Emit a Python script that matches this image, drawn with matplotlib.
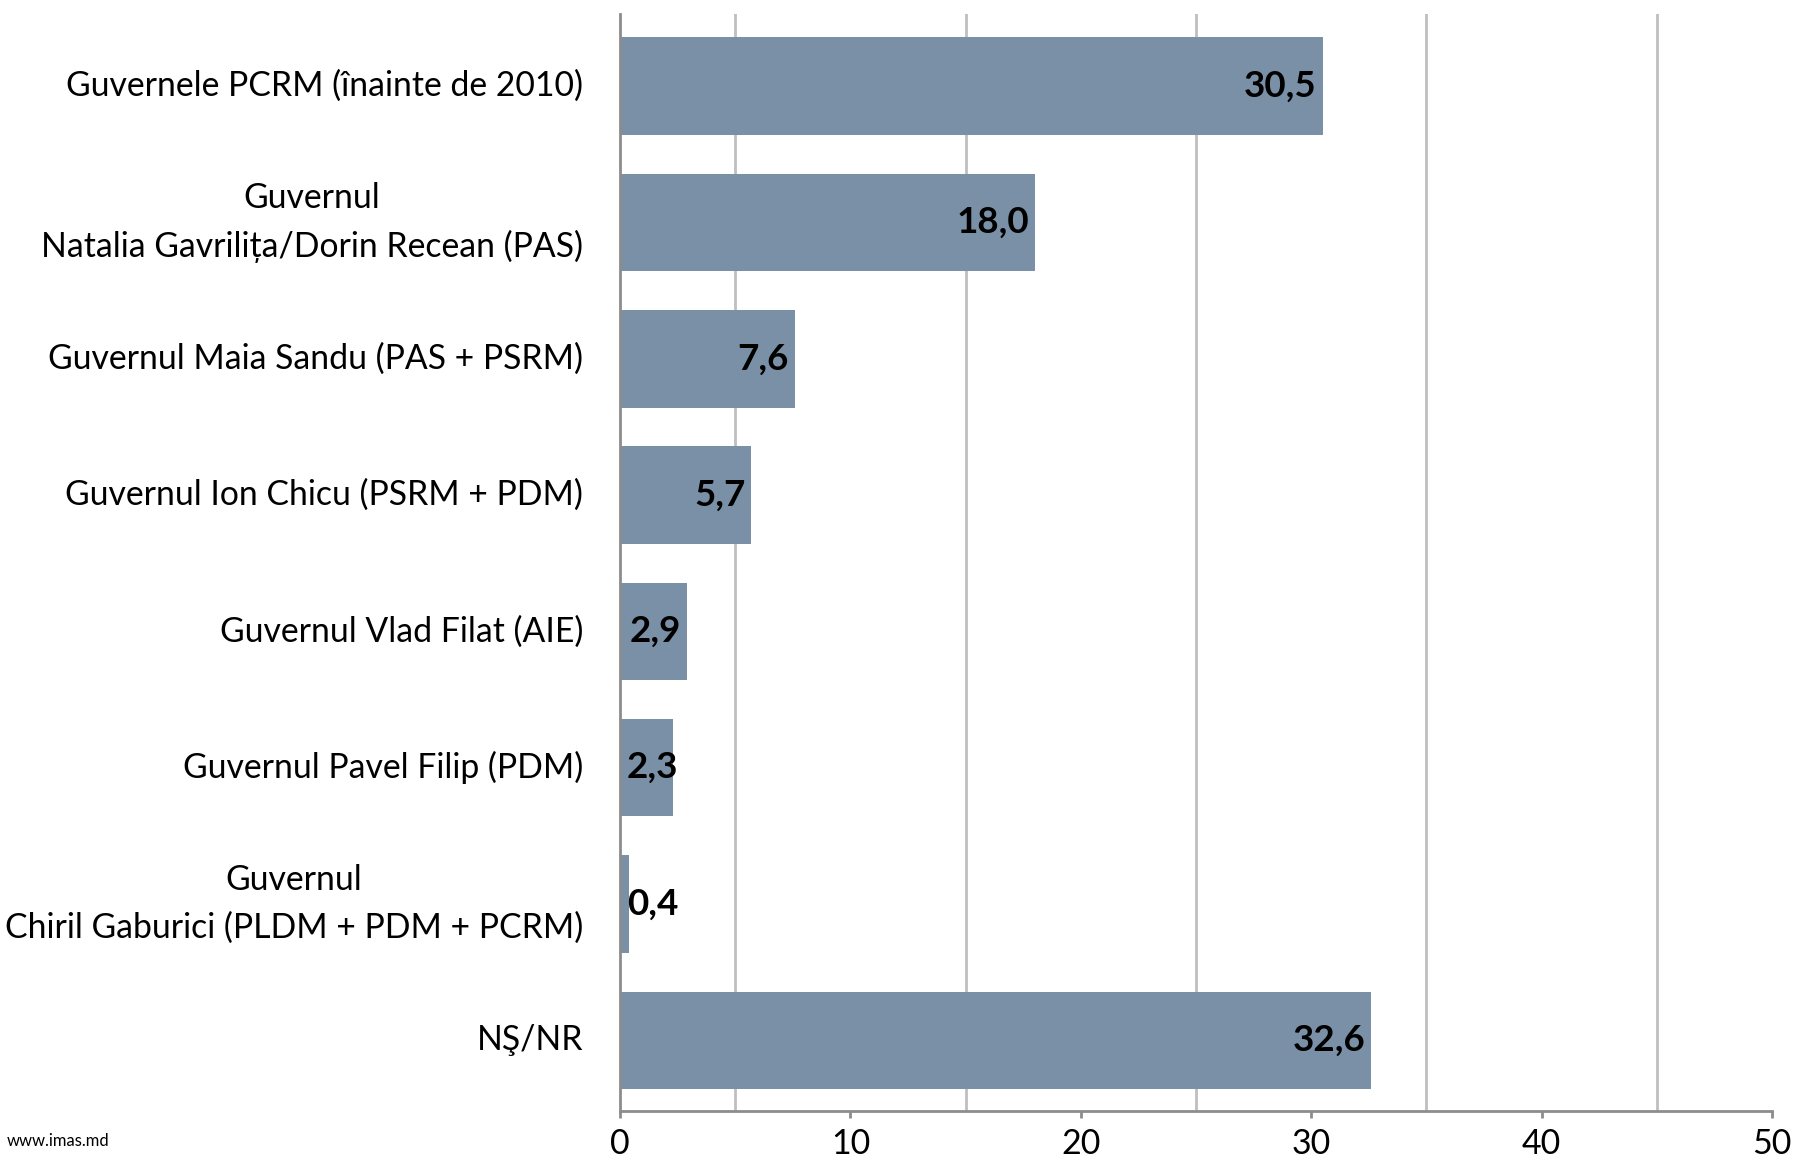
import matplotlib
matplotlib.use("Agg")
import matplotlib.pyplot as plt
import matplotlib.transforms as mtransforms
import numpy as np

categories = [
    "Guvernele PCRM (înainte de 2010)",
    "Guvernul\nNatalia Gavrilița/Dorin Recean (PAS)",
    "Guvernul Maia Sandu (PAS + PSRM)",
    "Guvernul Ion Chicu (PSRM + PDM)",
    "Guvernul Vlad Filat (AIE)",
    "Guvernul Pavel Filip (PDM)",
    "Guvernul\nChiril Gaburici (PLDM + PDM + PCRM)",
    "NŞ/NR",
]
values = [30.5, 18.0, 7.6, 5.7, 2.9, 2.3, 0.4, 32.6]
value_labels = ["30,5", "18,0", "7,6", "5,7", "2,9", "2,3", "0,4", "32,6"]
xticks = [0, 10, 20, 30, 40, 50]
gridlines = [5, 15, 25, 35, 45]

plt.rcParams['font.family'] = ['Lato', 'DejaVu Sans']

BAR = "#7990a7"
GRID = "#bfbfbf"
SPINE = "#8c8c8c"

fig = plt.figure(figsize=(17.93, 11.60), dpi=100)
ax = fig.add_axes([0.3458, 0.042, 0.6425, 0.946])

y = np.arange(len(categories))
ax.barh(y, values, height=0.715, color=BAR, zorder=3)
ax.set_xlim(0, 50)
ax.set_ylim(len(categories) - 0.48, -0.53)

ax.set_xticks(xticks)
ax.set_xticklabels([str(t) for t in xticks], fontsize=24.5)
ax.set_xticks(gridlines, minor=True)
ax.grid(True, which='minor', axis='x', color=GRID, linewidth=2, zorder=0)
ax.grid(False, which='major')
ax.tick_params(axis='x', which='major', length=5, width=2, color=SPINE, pad=7, direction='out')
ax.tick_params(axis='x', which='minor', length=0)

ax.set_yticks(y)
ax.set_yticklabels([])
ax.tick_params(axis='y', length=0)

base = ax.get_yaxis_transform()
for yi, cat in zip(y, categories):
    tr = mtransforms.offset_copy(base, fig=fig, x=-37, y=0, units='dots')
    ax.text(0, yi, cat, transform=tr, ha='right', va='center', fontsize=24.3,
            multialignment='center', linespacing=1.6, clip_on=False)

for s in ['top', 'right']:
    ax.spines[s].set_visible(False)
for s in ['left', 'bottom']:
    ax.spines[s].set_color(SPINE)
    ax.spines[s].set_linewidth(2)
    ax.spines[s].set_zorder(4)

fig.canvas.draw()
renderer = fig.canvas.get_renderer()
inv = ax.transData.inverted()
for yi, v, lab in zip(y, values, value_labels):
    t = ax.text(v, yi, lab, ha='right', va='center', fontsize=26.5, fontweight='bold',
                color='black', zorder=5)
    bb = t.get_window_extent(renderer)
    x0_px = ax.transData.transform((0, yi))[0]
    xe_px = ax.transData.transform((v, yi))[0]
    pad = 6
    if xe_px - pad - bb.width < x0_px + pad:
        t.set_ha('left')
        t.set_x(inv.transform((x0_px + 7, 0))[0])
    else:
        t.set_x(inv.transform((xe_px - pad, 0))[0])

fig.text(0.004, 0.0164, "www.imas.md", fontsize=12, ha='left', va='center')

fig.savefig("out.png", dpi=100)
